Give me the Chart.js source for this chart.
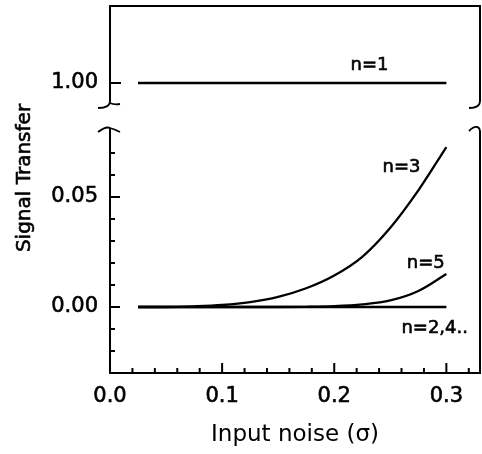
<!DOCTYPE html>
<html>
<head>
<meta charset="utf-8">
<script src="https://cdn.jsdelivr.net/npm/chart.js@4.4.1/dist/chart.umd.min.js"></script>
<style>
  html, body { margin: 0; padding: 0; background: #fff; }
</style>
</head>
<body>
<canvas id="transferChart" width="482" height="454"></canvas>
<script>
// input noise (sigma) on the x axis
const sigma = [0.025, 0.05, 0.075, 0.1, 0.125, 0.15, 0.175, 0.2, 0.225, 0.25, 0.275, 0.3];
// signal transfer per n
const n1 = [1, 1, 1, 1, 1, 1, 1, 1, 1, 1, 1, 1];
const n3 = [0, 0, 0.0003, 0.0009, 0.0022, 0.0046, 0.0085, 0.0143, 0.0228, 0.036, 0.053, 0.0727];
const n5 = [0, 0, 0, 0, 0, 0, 0.0001, 0.0004, 0.0012, 0.003, 0.0073, 0.015];
const nEven = [0, 0, 0, 0, 0, 0, 0, 0, 0, 0, 0, 0];

const xTickLabels = ['0.0', '0.1', '0.2', '0.3'];
const yTopTickLabels = ['1.00'];
const yBotTickLabels = ['0.00', '0.05'];
const curveLabels = ['n=1', 'n=3', 'n=5', 'n=2,4..'];

// where the curve names sit, in axis units
const labelSpots = [
    {x: 0.2315, y: 1.0082, axis: 'yTop'},
    {x: 0.260, y: 0.0636, axis: 'yBot'},
    {x: 0.2816, y: 0.020, axis: 'yBot'},
    {x: 0.2896, y: -0.0098, axis: 'yBot'}
];

Chart.defaults.font.family = 'DejaVu Sans';
Chart.defaults.color = '#000';

function pts(ys) {
    return sigma.map((s, i) => ({x: s, y: ys[i]}));
}
function isLabel(list, v) {
    return list.find(l => Math.abs(parseFloat(l) - v) < 1e-6);
}
function line(ctx, x1, y1, x2, y2) {
    ctx.beginPath();
    ctx.moveTo(x1, y1);
    ctx.lineTo(x2, y2);
    ctx.stroke();
}
function heavyText(ctx, text, x, y) {
    ctx.fillText(text, x, y);
    ctx.strokeText(text, x, y);
}

// box frame, broken axis braces, inward ticks and text labels
const framePlugin = {
    id: 'frame',
    afterDraw(chart) {
        const {ctx, chartArea: area, scales} = chart;
        const {x, yTop, yBot} = scales;
        const L = area.left, R = area.right;
        const upEnd = yTop.bottom - 4;
        const lowStart = yBot.top - 4;
        ctx.save();
        ctx.strokeStyle = '#000';
        ctx.lineWidth = 2;
        ctx.lineCap = 'butt';

        // top edge + vertical edges
        ctx.beginPath();
        ctx.moveTo(L, upEnd);
        ctx.lineTo(L, area.top);
        ctx.lineTo(R, area.top);
        ctx.lineTo(R, upEnd);
        ctx.stroke();
        ctx.beginPath();
        ctx.moveTo(L, lowStart + 1);
        ctx.lineTo(L, area.bottom);
        ctx.moveTo(R, lowStart + 4);
        ctx.lineTo(R, area.bottom);
        ctx.stroke();

        ctx.lineWidth = 1.8;
        // left braces
        ctx.beginPath();
        ctx.moveTo(L, upEnd);
        ctx.bezierCurveTo(L, upEnd + 5, L - 5, upEnd + 7, L - 12, upEnd + 7);
        ctx.moveTo(L, upEnd + 2);
        ctx.quadraticCurveTo(L + 4, upEnd + 4, L + 10, upEnd + 3);
        ctx.stroke();
        ctx.beginPath();
        ctx.moveTo(L - 12, lowStart + 5);
        ctx.quadraticCurveTo(L - 4, lowStart - 1, L, lowStart + 1);
        ctx.quadraticCurveTo(L + 4, lowStart + 2, L + 10, lowStart + 5);
        ctx.stroke();
        // right braces
        ctx.beginPath();
        ctx.moveTo(R, upEnd);
        ctx.bezierCurveTo(R, upEnd + 5, R - 5, upEnd + 7, R - 11, upEnd + 7);
        ctx.stroke();
        ctx.beginPath();
        ctx.moveTo(R - 11, lowStart + 4);
        ctx.bezierCurveTo(R - 5, lowStart - 2, R, lowStart - 1, R, lowStart + 5);
        ctx.stroke();

        // inward tick marks
        ctx.lineWidth = 2;
        x.ticks.forEach(t => {
            if (t.value <= 0.001) return;
            const px = x.getPixelForValue(t.value);
            const len = isLabel(xTickLabels, t.value) ? 10 : 5;
            line(ctx, px, area.bottom, px, area.bottom - len);
        });
        yTop.ticks.forEach(t => {
            const py = yTop.getPixelForValue(t.value);
            line(ctx, L, py, L + 11, py);
        });
        yBot.ticks.forEach(t => {
            if (Math.abs(t.value - yBot.min) < 0.001 || Math.abs(t.value - yBot.max) < 0.001) return;
            const py = yBot.getPixelForValue(t.value);
            const len = isLabel(yBotTickLabels, t.value) ? 10 : 5;
            line(ctx, L, py, L + len, py);
        });

        // curve names
        ctx.fillStyle = '#000';
        ctx.lineWidth = 0.6;
        ctx.font = '18px "DejaVu Sans"';
        ctx.textAlign = 'center';
        ctx.textBaseline = 'middle';
        labelSpots.forEach((s, i) => {
            heavyText(ctx, curveLabels[i], x.getPixelForValue(s.x), scales[s.axis].getPixelForValue(s.y));
        });

        // y axis title spanning both panels
        ctx.font = '20px "DejaVu Sans"';
        ctx.translate(25, 178);
        ctx.rotate(-Math.PI / 2);
        heavyText(ctx, 'Signal Transfer', 0, 0);
        ctx.restore();
    }
};

function leftWidth(scale) {
    scale.width = 110;
    scale.paddingTop = 0;
    scale.paddingBottom = 0;
}

const tickFont = {size: 21};

const ctx = document.getElementById('transferChart').getContext('2d');
const transferChart = new Chart(ctx, {
    type: 'line',
    plugins: [framePlugin],
    data: {
        datasets: [
            {label: curveLabels[0], data: pts(n1), yAxisID: 'yTop'},
            {label: curveLabels[1], data: pts(n3), yAxisID: 'yBot'},
            {label: curveLabels[2], data: pts(n5), yAxisID: 'yBot'},
            {label: curveLabels[3], data: pts(nEven), yAxisID: 'yBot'}
        ]
    },
    options: {
        responsive: false,
        animation: false,
        layout: {
            padding: {top: 6, right: 2, bottom: 0, left: 0}
        },
        elements: {
            line: {borderColor: '#000', borderWidth: 2.3, cubicInterpolationMode: 'monotone', fill: false},
            point: {radius: 0}
        },
        plugins: {
            legend: {display: false},
            tooltip: {enabled: false}
        },
        scales: {
            x: {
                type: 'linear',
                position: 'bottom',
                min: 0,
                max: 0.33,
                grid: {display: false, drawTicks: false},
                border: {display: true, color: '#000', width: 2},
                ticks: {
                    stepSize: 0.02,
                    includeBounds: false,
                    autoSkip: false,
                    maxRotation: 0,
                    padding: 11,
                    font: tickFont,
                    textStrokeColor: '#000',
                    textStrokeWidth: 0.6,
                    callback: (v) => isLabel(xTickLabels, v) || ''
                },
                title: {
                    display: true,
                    text: 'Input noise (σ)',
                    font: {size: 23},
                    padding: {top: 0, bottom: 5}
                },
                afterFit: (scale) => { scale.height = 81; }
            },
            // stacked left axes are placed bottom-up, so the lower panel comes first
            yBot: {
                type: 'linear',
                position: 'left',
                stack: 'left',
                stackWeight: 242,
                min: -0.03,
                max: 0.08,
                grid: {display: false, drawTicks: false},
                border: {display: false},
                ticks: {
                    stepSize: 0.01,
                    autoSkip: false,
                    padding: 12,
                    font: tickFont,
                    textStrokeColor: '#000',
                    textStrokeWidth: 0.6,
                    callback: (v) => isLabel(yBotTickLabels, v) || ''
                },
                afterFit: leftWidth
            },
            yGap: {
                type: 'linear',
                position: 'left',
                stack: 'left',
                stackWeight: 26,
                min: 0,
                max: 1,
                grid: {display: false, drawTicks: false},
                border: {display: false},
                ticks: {display: false},
                afterFit: leftWidth
            },
            yTop: {
                type: 'linear',
                position: 'left',
                stack: 'left',
                stackWeight: 99,
                min: 0.99,
                max: 1.035,
                grid: {display: false, drawTicks: false},
                border: {display: false},
                ticks: {
                    padding: 12,
                    font: tickFont,
                    textStrokeColor: '#000',
                    textStrokeWidth: 0.6,
                    callback: (v) => isLabel(yTopTickLabels, v) || ''
                },
                afterBuildTicks: (scale) => {
                    scale.ticks = yTopTickLabels.map(l => ({value: parseFloat(l)}));
                },
                afterFit: leftWidth
            }
        }
    }
});
</script>
</body>
</html>
